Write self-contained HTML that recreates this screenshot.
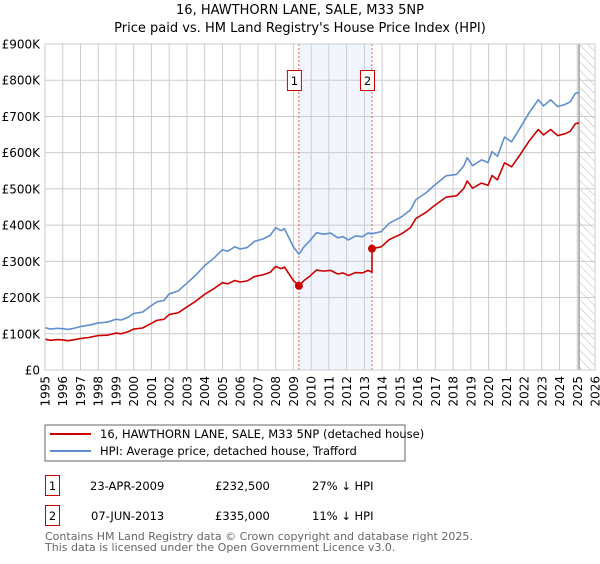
<!DOCTYPE html>
<html><head><meta charset="utf-8"><style>
body{margin:0;background:#fff;width:600px;height:560px;overflow:hidden;font-family:"DejaVu Sans","Liberation Sans",sans-serif;}
svg text{font-family:"DejaVu Sans","Liberation Sans",sans-serif;}
</style></head><body>
<svg id="c" width="600" height="560" xmlns="http://www.w3.org/2000/svg">
<defs><pattern id="hatch" width="6" height="6" patternUnits="userSpaceOnUse" patternTransform="rotate(-45)"><line x1="0" y1="0" x2="0" y2="6" stroke="#bbb" stroke-width="1"/></pattern></defs>
<text x="300" y="14" text-anchor="middle" font-size="13">16, HAWTHORN LANE, SALE, M33 5NP</text>
<text x="300" y="32" text-anchor="middle" font-size="13">Price paid vs. HM Land Registry's House Price Index (HPI)</text>
<g id="plot"></g>
<rect x="45" y="425" width="360" height="36" fill="#fff" stroke="#666"/>
<line x1="50" y1="434" x2="91" y2="434" stroke="#cc0000" stroke-width="2"/>
<text x="100" y="438" font-size="11.5">16, HAWTHORN LANE, SALE, M33 5NP (detached house)</text>
<line x1="50" y1="451" x2="91" y2="451" stroke="#5f8fd0" stroke-width="2"/>
<text x="100" y="455" font-size="11.5">HPI: Average price, detached house, Trafford</text>
<g font-size="11.5">
<rect x="45.5" y="475.5" width="14" height="20" fill="#fff" stroke="#cc0000"/>
<text x="52.5" y="490" text-anchor="middle">1</text>
<text x="90" y="490">23-APR-2009</text>
<text x="215" y="490">£232,500</text>
<text x="312" y="490">27% ↓ HPI</text>
</g>
<g font-size="11.5">
<rect x="45.5" y="505.5" width="14" height="20" fill="#fff" stroke="#cc0000"/>
<text x="52.5" y="520" text-anchor="middle">2</text>
<text x="91" y="520">07-JUN-2013</text>
<text x="215" y="520">£335,000</text>
<text x="312" y="520">11% ↓ HPI</text>
</g>
<text x="45" y="540" font-size="11" fill="#666">Contains HM Land Registry data © Crown copyright and database right 2025.</text>
<text x="45" y="551" font-size="11" fill="#666">This data is licensed under the Open Government Licence v3.0.</text>
</svg>
<script>
const yTicks=[0,100,200,300,400,500,600,700,800,900];
const yTickLabels=["£0","£100K","£200K","£300K","£400K","£500K","£600K","£700K","£800K","£900K"];
const xTicks=[1995,1996,1997,1998,1999,2000,2001,2002,2003,2004,2005,2006,2007,2008,2009,2010,2011,2012,2013,2014,2015,2016,2017,2018,2019,2020,2021,2022,2023,2024,2025,2026];
const hpiYears=[1995.0,1995.3,1995.7,1996.0,1996.3,1996.7,1997.0,1997.5,1998.0,1998.5,1999.0,1999.3,1999.7,2000.0,2000.5,2001.0,2001.3,2001.7,2002.0,2002.5,2003.0,2003.5,2004.0,2004.5,2005.0,2005.3,2005.7,2006.0,2006.4,2006.8,2007.3,2007.7,2008.0,2008.3,2008.5,2009.0,2009.31,2009.6,2009.9,2010.3,2010.7,2011.1,2011.5,2011.8,2012.1,2012.5,2012.9,2013.2,2013.43,2013.95,2014.4,2015.1,2015.6,2015.9,2016.5,2016.9,2017.6,2018.2,2018.6,2018.8,2019.1,2019.6,2019.97,2020.2,2020.5,2020.9,2021.3,2021.8,2022.3,2022.8,2023.1,2023.5,2023.9,2024.3,2024.6,2024.9,2025.1];
const hpiValues=[117,113,115,114,112,116,120,124,130,132,140,138,146,156,160,178,188,192,210,218,240,262,288,308,332,328,340,334,338,355,362,372,393,385,390,340,320,340,355,379,375,378,365,368,359,370,368,378,376,382,405,423,442,470,490,508,536,540,563,586,564,580,573,603,590,643,630,670,711,746,729,746,727,733,740,764,766];
const priceYears=[1995.0,1995.3,1995.7,1996.0,1996.3,1996.7,1997.0,1997.5,1998.0,1998.5,1999.0,1999.3,1999.7,2000.0,2000.5,2001.0,2001.3,2001.7,2002.0,2002.5,2003.0,2003.5,2004.0,2004.5,2005.0,2005.3,2005.7,2006.0,2006.4,2006.8,2007.3,2007.7,2008.0,2008.3,2008.5,2009.0,2009.31,2009.6,2009.9,2010.3,2010.7,2011.1,2011.5,2011.8,2012.1,2012.5,2012.9,2013.2,2013.43,2013.43,2013.95,2014.4,2015.1,2015.6,2015.9,2016.5,2016.9,2017.6,2018.2,2018.6,2018.8,2019.1,2019.6,2019.97,2020.2,2020.5,2020.9,2021.3,2021.8,2022.3,2022.8,2023.1,2023.5,2023.9,2024.3,2024.6,2024.9,2025.1];
const priceValues=[85,82,84,83,81,84,87,90,95,96,102,100,106,113,116,129,137,140,153,158,174,190,209,224,241,238,247,243,246,258,263,270,286,280,284,247,232.5,247,258,276,273,275,265,268,261,269,268,275,270,335,340,360,376,393,418,436,452,477,481,501,522,502,516,510,537,525,572,561,596,633,664,649,664,647,652,659,680,682];
const saleYears=[2009.31,2013.43];
const saleValues=[232.5,335];
const saleLabels=["1","2"];
const X0=45,X1=595,Y0=370,Y1=44,xMin=1995,xMax=2026,yMax=900,dataEnd=2025.1;
const sx=v=>X0+(v-xMin)/(xMax-xMin)*(X1-X0);
const sy=v=>Y0-v/yMax*(Y0-Y1);
const NS="http://www.w3.org/2000/svg";
const g=document.getElementById('plot');
function mk(t,a){const e=document.createElementNS(NS,t);for(const k in a)e.setAttribute(k,a[k]);g.appendChild(e);return e;}
let e;
e=mk('rect',{x:sx(saleYears[0]),y:Y1,width:sx(saleYears[1])-sx(saleYears[0]),height:Y0-Y1,fill:'#eef3fd',opacity:0.8});


e=mk('rect',{x:sx(dataEnd),y:Y1,width:X1-sx(dataEnd),height:Y0-Y1,fill:'url(#hatch)'});


yTicks.forEach((t,i)=>{
 e=mk('line',{x1:X0,x2:X1,y1:sy(t),y2:sy(t),stroke:'#ccc','stroke-width':1});
 
 
 e=mk('text',{x:40,y:sy(t)+4.5,'text-anchor':'end','font-size':12});
 e.textContent=yTickLabels[i];
 
 
});
xTicks.forEach(t=>{
 e=mk('line',{x1:sx(t),x2:sx(t),y1:Y1,y2:Y0,stroke:'#ccc','stroke-width':1});
 
 
 e=mk('text',{x:0,y:0,'text-anchor':'end','font-size':12,transform:`translate(${sx(t)+4.5},${Y0+6}) rotate(-90)`});
 e.textContent=t;
 
 
});
e=mk('line',{x1:sx(dataEnd),x2:sx(dataEnd),y1:Y1,y2:Y0,stroke:'#888','stroke-width':1.2});


saleYears.forEach((yr,i)=>{
 const x=sx(yr);
 e=mk('line',{x1:x,x2:x,y1:Y1,y2:Y0,stroke:'#e06060','stroke-width':1,'stroke-dasharray':'2,2'});
 
 
 e=mk('rect',{x:x-11.5,y:70.5,width:14,height:20,fill:'#fff',stroke:'#cc0000'});
 
 
 e=mk('text',{x:x-4.5,y:85,'text-anchor':'middle','font-size':11.5});
 e.textContent=saleLabels[i];
 
 
});
e=mk('polyline',{points:hpiYears.map((y,i)=>sx(y)+','+sy(hpiValues[i])).join(' '),fill:'none',stroke:'#5f8fd0','stroke-width':1.6,'stroke-linejoin':'round'});


e=mk('polyline',{points:priceYears.map((y,i)=>sx(y)+','+sy(priceValues[i])).join(' '),fill:'none',stroke:'#cc0000','stroke-width':1.6,'stroke-linejoin':'round'});


saleYears.forEach((yr,i)=>{
 e=mk('circle',{cx:sx(yr),cy:sy(saleValues[i]),r:4,fill:'#cc0000'});
 
 
});
e=mk('rect',{x:X0,y:Y1,width:X1-X0,height:Y0-Y1,fill:'none',stroke:'#ccc'});


</script>
</body></html>
